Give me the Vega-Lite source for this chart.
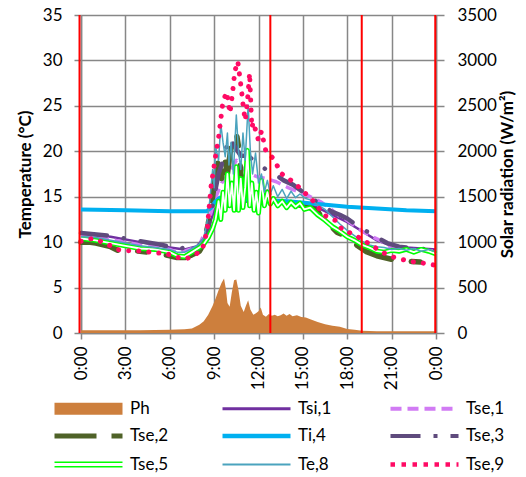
{
  "$schema": "https://vega.github.io/schema/vega-lite/v6.json",
  "width": 355,
  "height": 318,
  "autosize": {"type": "none"},
  "padding": {"left": 81, "top": 15, "right": 90, "bottom": 144},
  "config": {
    "font": "Lato",
    "view": {"stroke": null},
    "axis": {
      "gridColor": "#878787", "gridWidth": 1.5, "gridOpacity": 1,
      "domainColor": "#878787", "domainWidth": 1.5,
      "tickColor": "#878787", "tickWidth": 1.5, "tickSize": 7,
      "labelColor": "#000000", "labelFontSize": 17, "labelFont": "Lato", "labelPadding": 12,
      "titleColor": "#000000", "titleFontSize": 17, "titleFont": "Lato", "titleFontWeight": "bold"
    }
  },
  "data": {
    "values": [
      {"s":"Ph","t":0,"v":30},{"s":"Ph","t":1,"v":30},{"s":"Ph","t":2,"v":30},{"s":"Ph","t":3,"v":30},{"s":"Ph","t":4,"v":30},{"s":"Ph","t":5,"v":32},{"s":"Ph","t":6,"v":35},{"s":"Ph","t":7,"v":42},{"s":"Ph","t":7.5,"v":50},{"s":"Ph","t":8,"v":90},{"s":"Ph","t":8.3,"v":130},{"s":"Ph","t":8.6,"v":200},{"s":"Ph","t":8.9,"v":300},{"s":"Ph","t":9.1,"v":380},{"s":"Ph","t":9.3,"v":470},{"s":"Ph","t":9.5,"v":550},{"s":"Ph","t":9.67,"v":600},{"s":"Ph","t":9.8,"v":480},{"s":"Ph","t":9.9,"v":330},{"s":"Ph","t":10.05,"v":290},{"s":"Ph","t":10.2,"v":450},{"s":"Ph","t":10.35,"v":580},{"s":"Ph","t":10.5,"v":590},{"s":"Ph","t":10.65,"v":470},{"s":"Ph","t":10.8,"v":300},{"s":"Ph","t":11.0,"v":230},{"s":"Ph","t":11.15,"v":300},{"s":"Ph","t":11.3,"v":360},{"s":"Ph","t":11.45,"v":260},{"s":"Ph","t":11.65,"v":200},{"s":"Ph","t":11.85,"v":220},{"s":"Ph","t":12.0,"v":240},{"s":"Ph","t":12.15,"v":280},{"s":"Ph","t":12.3,"v":200},{"s":"Ph","t":12.5,"v":180},{"s":"Ph","t":12.7,"v":210},{"s":"Ph","t":12.9,"v":190},{"s":"Ph","t":13.1,"v":200},{"s":"Ph","t":13.3,"v":185},{"s":"Ph","t":13.5,"v":195},{"s":"Ph","t":13.7,"v":215},{"s":"Ph","t":13.9,"v":190},{"s":"Ph","t":14.1,"v":210},{"s":"Ph","t":14.3,"v":185},{"s":"Ph","t":14.6,"v":195},{"s":"Ph","t":14.9,"v":175},{"s":"Ph","t":15.2,"v":170},{"s":"Ph","t":15.5,"v":150},{"s":"Ph","t":16,"v":120},{"s":"Ph","t":16.5,"v":95},{"s":"Ph","t":17,"v":80},{"s":"Ph","t":17.5,"v":70},{"s":"Ph","t":18,"v":45},{"s":"Ph","t":18.5,"v":35},{"s":"Ph","t":19,"v":25},{"s":"Ph","t":20,"v":20},{"s":"Ph","t":21,"v":20},{"s":"Ph","t":22,"v":20},{"s":"Ph","t":23,"v":20},{"s":"Ph","t":24,"v":20},

      {"s":"Tsi,1","t":0,"v":10.9},{"s":"Tsi,1","t":2,"v":10.6},{"s":"Tsi,1","t":4,"v":10.0},{"s":"Tsi,1","t":6,"v":9.4},{"s":"Tsi,1","t":7,"v":9.2},{"s":"Tsi,1","t":8,"v":9.6},{"s":"Tsi,1","t":8.5,"v":11},{"s":"Tsi,1","t":9,"v":13.5},{"s":"Tsi,1","t":9.5,"v":14.3},{"s":"Tsi,1","t":10,"v":14.4},{"s":"Tsi,1","t":12,"v":14.5},{"s":"Tsi,1","t":13,"v":14.5},{"s":"Tsi,1","t":14,"v":14.5},{"s":"Tsi,1","t":15,"v":14.3},{"s":"Tsi,1","t":16,"v":13.8},{"s":"Tsi,1","t":17,"v":13.0},{"s":"Tsi,1","t":18,"v":12.2},{"s":"Tsi,1","t":19,"v":11.2},{"s":"Tsi,1","t":20,"v":10.2},{"s":"Tsi,1","t":21,"v":9.6},{"s":"Tsi,1","t":22,"v":9.4},{"s":"Tsi,1","t":23,"v":9.3},{"s":"Tsi,1","t":24,"v":9.2},

      {"s":"Tse,1","t":0,"v":10.7},{"s":"Tse,1","t":1,"v":10.6},{"s":"Tse,1","t":2,"v":10.3},{"s":"Tse,1","t":3,"v":10.0},{"s":"Tse,1","t":4,"v":9.7},{"s":"Tse,1","t":5,"v":9.5},{"s":"Tse,1","t":6,"v":9.2},{"s":"Tse,1","t":6.5,"v":8.9},{"s":"Tse,1","t":7,"v":9.0},{"s":"Tse,1","t":7.5,"v":9.3},{"s":"Tse,1","t":8,"v":9.7},{"s":"Tse,1","t":8.5,"v":11.5},{"s":"Tse,1","t":9,"v":14.5},{"s":"Tse,1","t":9.5,"v":16.5},{"s":"Tse,1","t":10,"v":17.5},{"s":"Tse,1","t":10.5,"v":19.0},{"s":"Tse,1","t":11,"v":18.0},{"s":"Tse,1","t":11.5,"v":17.5},{"s":"Tse,1","t":11.9,"v":17.2},{"s":"Tse,1","t":12.5,"v":17.0},{"s":"Tse,1","t":13.2,"v":16.65},{"s":"Tse,1","t":14,"v":16.0},{"s":"Tse,1","t":14.9,"v":15.4},{"s":"Tse,1","t":15.5,"v":15.0},{"s":"Tse,1","t":16.2,"v":14.45},{"s":"Tse,1","t":17,"v":13.5},{"s":"Tse,1","t":17.5,"v":12.8},{"s":"Tse,1","t":18,"v":12.4},{"s":"Tse,1","t":18.4,"v":11.9},{"s":"Tse,1","t":19,"v":11.2},{"s":"Tse,1","t":19.7,"v":10.6},{"s":"Tse,1","t":20.4,"v":10.05},{"s":"Tse,1","t":20.9,"v":9.5},{"s":"Tse,1","t":21.5,"v":9.3},{"s":"Tse,1","t":22,"v":9.2},{"s":"Tse,1","t":23,"v":9.1},{"s":"Tse,1","t":24,"v":9.0},

      {"s":"Tse,2","t":0,"v":10.0},{"s":"Tse,2","t":0.5,"v":10.0},{"s":"Tse,2","t":1,"v":9.9},{"s":"Tse,2","t":2,"v":9.5},{"s":"Tse,2","t":2.5,"v":9.1},{"s":"Tse,2","t":3,"v":9.1},{"s":"Tse,2","t":4,"v":9.0},{"s":"Tse,2","t":5,"v":8.8},{"s":"Tse,2","t":6,"v":8.5},{"s":"Tse,2","t":6.5,"v":8.3},{"s":"Tse,2","t":7,"v":8.3},{"s":"Tse,2","t":7.5,"v":8.6},{"s":"Tse,2","t":8,"v":9.0},{"s":"Tse,2","t":8.3,"v":9.8},{"s":"Tse,2","t":8.6,"v":12},{"s":"Tse,2","t":8.9,"v":15},{"s":"Tse,2","t":9.1,"v":17.5},{"s":"Tse,2","t":9.3,"v":19},{"s":"Tse,2","t":9.5,"v":17},{"s":"Tse,2","t":9.7,"v":19.4},{"s":"Tse,2","t":9.9,"v":17.5},{"s":"Tse,2","t":10.1,"v":20},{"s":"Tse,2","t":10.3,"v":21.5},{"s":"Tse,2","t":10.5,"v":22.0},{"s":"Tse,2","t":10.65,"v":20.5},{"s":"Tse,2","t":10.8,"v":17.5},{"s":"Tse,2","t":11.0,"v":16.5},{"s":"Tse,2","t":11.3,"v":15.8},{"s":"Tse,2","t":11.6,"v":15.0},{"s":"Tse,2","t":12.0,"v":15.8},{"s":"Tse,2","t":12.3,"v":14.6},{"s":"Tse,2","t":12.6,"v":15.5},{"s":"Tse,2","t":13.0,"v":14.5},{"s":"Tse,2","t":13.5,"v":14.4},{"s":"Tse,2","t":14,"v":14.3},{"s":"Tse,2","t":14.5,"v":14.2},{"s":"Tse,2","t":15,"v":14.0},{"s":"Tse,2","t":15.5,"v":13.8},{"s":"Tse,2","t":16,"v":13.4},{"s":"Tse,2","t":16.4,"v":12.4},{"s":"Tse,2","t":17,"v":11.6},{"s":"Tse,2","t":17.3,"v":11.1},{"s":"Tse,2","t":18.2,"v":10.4},{"s":"Tse,2","t":18.7,"v":9.6},{"s":"Tse,2","t":19.3,"v":8.95},{"s":"Tse,2","t":20,"v":8.5},{"s":"Tse,2","t":21.3,"v":8.0},{"s":"Tse,2","t":22,"v":7.9},{"s":"Tse,2","t":23,"v":7.8},{"s":"Tse,2","t":24,"v":7.8},

      {"s":"Ti,4","t":0,"v":13.6},{"s":"Ti,4","t":3,"v":13.5},{"s":"Ti,4","t":6,"v":13.4},{"s":"Ti,4","t":8.5,"v":13.4},{"s":"Ti,4","t":8.8,"v":13.8},{"s":"Ti,4","t":9.1,"v":14.5},{"s":"Ti,4","t":9.4,"v":14.9},{"s":"Ti,4","t":10,"v":14.8},{"s":"Ti,4","t":11,"v":14.7},{"s":"Ti,4","t":12.6,"v":14.6},{"s":"Ti,4","t":14,"v":14.5},{"s":"Ti,4","t":16,"v":14.2},{"s":"Ti,4","t":18,"v":13.9},{"s":"Ti,4","t":20,"v":13.7},{"s":"Ti,4","t":22,"v":13.5},{"s":"Ti,4","t":24,"v":13.4},

      {"s":"Tse,3","t":0,"v":11.0},{"s":"Tse,3","t":2,"v":10.7},{"s":"Tse,3","t":4,"v":10.1},{"s":"Tse,3","t":5.5,"v":9.7},{"s":"Tse,3","t":6.5,"v":9.2},{"s":"Tse,3","t":7,"v":9.4},{"s":"Tse,3","t":8,"v":9.7},{"s":"Tse,3","t":8.5,"v":10.5},{"s":"Tse,3","t":9,"v":15},{"s":"Tse,3","t":9.3,"v":17.5},{"s":"Tse,3","t":9.6,"v":19},{"s":"Tse,3","t":10.0,"v":21.5},{"s":"Tse,3","t":10.4,"v":20.5},{"s":"Tse,3","t":10.8,"v":19.5},{"s":"Tse,3","t":11.3,"v":19.5},{"s":"Tse,3","t":11.9,"v":18.7},{"s":"Tse,3","t":12.5,"v":18.0},{"s":"Tse,3","t":13,"v":17.6},{"s":"Tse,3","t":13.7,"v":16.8},{"s":"Tse,3","t":14.35,"v":16.3},{"s":"Tse,3","t":15,"v":15.5},{"s":"Tse,3","t":15.6,"v":14.8},{"s":"Tse,3","t":16.3,"v":14.1},{"s":"Tse,3","t":16.95,"v":13.35},{"s":"Tse,3","t":17.5,"v":13.0},{"s":"Tse,3","t":18,"v":12.6},{"s":"Tse,3","t":18.6,"v":11.9},{"s":"Tse,3","t":19.5,"v":11.0},{"s":"Tse,3","t":20.7,"v":9.9},{"s":"Tse,3","t":21.5,"v":9.5},{"s":"Tse,3","t":22.5,"v":9.3},{"s":"Tse,3","t":23.5,"v":9.2},{"s":"Tse,3","t":24,"v":9.1},

      {"s":"Tse,5","t":0,"v":10.4},{"s":"Tse,5","t":1,"v":10.2},{"s":"Tse,5","t":2,"v":9.9},{"s":"Tse,5","t":3,"v":9.6},{"s":"Tse,5","t":4,"v":9.3},{"s":"Tse,5","t":5,"v":9.2},{"s":"Tse,5","t":6,"v":8.9},{"s":"Tse,5","t":6.5,"v":8.5},{"s":"Tse,5","t":7,"v":8.4},{"s":"Tse,5","t":7.5,"v":8.9},{"s":"Tse,5","t":8,"v":9.4},{"s":"Tse,5","t":8.3,"v":9.8},{"s":"Tse,5","t":8.6,"v":10.5},{"s":"Tse,5","t":8.9,"v":11.5},{"s":"Tse,5","t":9.1,"v":12.5},{"s":"Tse,5","t":9.3,"v":14.5},{"s":"Tse,5","t":9.45,"v":12.5},{"s":"Tse,5","t":9.6,"v":15.5},{"s":"Tse,5","t":9.75,"v":13.5},{"s":"Tse,5","t":9.9,"v":17.5},{"s":"Tse,5","t":10.05,"v":14},{"s":"Tse,5","t":10.2,"v":16.5},{"s":"Tse,5","t":10.35,"v":13.5},{"s":"Tse,5","t":10.5,"v":18.3},{"s":"Tse,5","t":10.65,"v":13.5},{"s":"Tse,5","t":10.8,"v":17},{"s":"Tse,5","t":10.95,"v":13.8},{"s":"Tse,5","t":11.1,"v":16},{"s":"Tse,5","t":11.25,"v":20.1},{"s":"Tse,5","t":11.4,"v":14},{"s":"Tse,5","t":11.55,"v":16.5},{"s":"Tse,5","t":11.7,"v":13.5},{"s":"Tse,5","t":11.85,"v":15.5},{"s":"Tse,5","t":12.0,"v":13.2},{"s":"Tse,5","t":12.2,"v":16.8},{"s":"Tse,5","t":12.4,"v":14.0},{"s":"Tse,5","t":12.6,"v":15.5},{"s":"Tse,5","t":12.8,"v":14.2},{"s":"Tse,5","t":13.0,"v":14.8},{"s":"Tse,5","t":13.3,"v":14.0},{"s":"Tse,5","t":13.6,"v":14.5},{"s":"Tse,5","t":13.9,"v":13.8},{"s":"Tse,5","t":14.2,"v":14.4},{"s":"Tse,5","t":14.5,"v":13.9},{"s":"Tse,5","t":14.8,"v":14.3},{"s":"Tse,5","t":15.1,"v":13.6},{"s":"Tse,5","t":15.5,"v":13.8},{"s":"Tse,5","t":16,"v":13.0},{"s":"Tse,5","t":16.5,"v":12.4},{"s":"Tse,5","t":17,"v":11.7},{"s":"Tse,5","t":17.5,"v":11.2},{"s":"Tse,5","t":18,"v":10.6},{"s":"Tse,5","t":18.5,"v":10.2},{"s":"Tse,5","t":19,"v":9.7},{"s":"Tse,5","t":19.5,"v":9.4},{"s":"Tse,5","t":20,"v":9.0},{"s":"Tse,5","t":20.5,"v":8.9},{"s":"Tse,5","t":21,"v":9.1},{"s":"Tse,5","t":21.5,"v":9.0},{"s":"Tse,5","t":22,"v":9.2},{"s":"Tse,5","t":22.5,"v":8.9},{"s":"Tse,5","t":23,"v":9.2},{"s":"Tse,5","t":23.5,"v":9.0},{"s":"Tse,5","t":24,"v":8.7},

      {"s":"Te,8","t":0,"v":10.6},{"s":"Te,8","t":1,"v":10.5},{"s":"Te,8","t":2,"v":10.2},{"s":"Te,8","t":3,"v":9.9},{"s":"Te,8","t":4,"v":9.6},{"s":"Te,8","t":5,"v":9.4},{"s":"Te,8","t":6,"v":9.2},{"s":"Te,8","t":6.5,"v":8.9},{"s":"Te,8","t":7,"v":8.9},{"s":"Te,8","t":7.5,"v":9.3},{"s":"Te,8","t":8,"v":9.8},{"s":"Te,8","t":8.3,"v":10.5},{"s":"Te,8","t":8.5,"v":12},{"s":"Te,8","t":8.7,"v":14.5},{"s":"Te,8","t":8.9,"v":18},{"s":"Te,8","t":9.0,"v":16},{"s":"Te,8","t":9.1,"v":20.5},{"s":"Te,8","t":9.3,"v":19},{"s":"Te,8","t":9.45,"v":23},{"s":"Te,8","t":9.6,"v":21},{"s":"Te,8","t":9.75,"v":19.4},{"s":"Te,8","t":9.9,"v":22},{"s":"Te,8","t":10.0,"v":18.5},{"s":"Te,8","t":10.15,"v":21},{"s":"Te,8","t":10.3,"v":17.5},{"s":"Te,8","t":10.5,"v":24.0},{"s":"Te,8","t":10.65,"v":20},{"s":"Te,8","t":10.8,"v":18},{"s":"Te,8","t":10.95,"v":22},{"s":"Te,8","t":11.1,"v":19},{"s":"Te,8","t":11.3,"v":25.1},{"s":"Te,8","t":11.45,"v":20},{"s":"Te,8","t":11.6,"v":17.5},{"s":"Te,8","t":11.8,"v":19.8},{"s":"Te,8","t":12.0,"v":16.5},{"s":"Te,8","t":12.2,"v":17.5},{"s":"Te,8","t":12.4,"v":15.5},{"s":"Te,8","t":12.6,"v":16.8},{"s":"Te,8","t":12.8,"v":15.3},{"s":"Te,8","t":13.0,"v":16.2},{"s":"Te,8","t":13.3,"v":15.0},{"s":"Te,8","t":13.6,"v":15.8},{"s":"Te,8","t":13.9,"v":14.8},{"s":"Te,8","t":14.2,"v":15.6},{"s":"Te,8","t":14.5,"v":14.9},{"s":"Te,8","t":14.8,"v":15.3},{"s":"Te,8","t":15.2,"v":14.8},{"s":"Te,8","t":15.6,"v":14.6},{"s":"Te,8","t":16,"v":14.1},{"s":"Te,8","t":16.5,"v":13.6},{"s":"Te,8","t":17,"v":12.8},{"s":"Te,8","t":17.5,"v":12.0},{"s":"Te,8","t":18,"v":11.3},{"s":"Te,8","t":18.5,"v":10.7},{"s":"Te,8","t":19,"v":10.1},{"s":"Te,8","t":19.5,"v":9.7},{"s":"Te,8","t":20,"v":9.5},{"s":"Te,8","t":20.5,"v":9.4},{"s":"Te,8","t":21,"v":9.2},{"s":"Te,8","t":21.5,"v":9.3},{"s":"Te,8","t":22,"v":9.1},{"s":"Te,8","t":22.5,"v":9.3},{"s":"Te,8","t":23,"v":9.0},{"s":"Te,8","t":23.5,"v":9.2},{"s":"Te,8","t":24,"v":8.9},

      {"s":"Tse,9","t":0,"v":10.1},{"s":"Tse,9","t":0.5,"v":10.3},{"s":"Tse,9","t":0.8,"v":10.4},{"s":"Tse,9","t":1.3,"v":10.1},{"s":"Tse,9","t":2,"v":9.6},{"s":"Tse,9","t":2.4,"v":9.2},{"s":"Tse,9","t":3.2,"v":9.05},{"s":"Tse,9","t":4.3,"v":9.0},{"s":"Tse,9","t":5,"v":8.8},{"s":"Tse,9","t":5.7,"v":8.8},{"s":"Tse,9","t":6.3,"v":8.4},{"s":"Tse,9","t":7.1,"v":8.15},{"s":"Tse,9","t":7.7,"v":8.6},{"s":"Tse,9","t":8.2,"v":9.2},{"s":"Tse,9","t":8.4,"v":10.4},{"s":"Tse,9","t":8.55,"v":11.7},{"s":"Tse,9","t":8.7,"v":14.5},{"s":"Tse,9","t":8.8,"v":16.3},{"s":"Tse,9","t":8.95,"v":17.8},{"s":"Tse,9","t":9.1,"v":19.5},{"s":"Tse,9","t":9.3,"v":21.5},{"s":"Tse,9","t":9.45,"v":23.5},{"s":"Tse,9","t":9.6,"v":25.5},{"s":"Tse,9","t":9.85,"v":26.5},{"s":"Tse,9","t":10.07,"v":24.2},{"s":"Tse,9","t":10.25,"v":26.5},{"s":"Tse,9","t":10.4,"v":28.8},{"s":"Tse,9","t":10.6,"v":29.9},{"s":"Tse,9","t":10.75,"v":28.0},{"s":"Tse,9","t":10.87,"v":26.4},{"s":"Tse,9","t":10.97,"v":24.9},{"s":"Tse,9","t":11.1,"v":23.4},{"s":"Tse,9","t":11.25,"v":25.5},{"s":"Tse,9","t":11.4,"v":28.6},{"s":"Tse,9","t":11.45,"v":26.5},{"s":"Tse,9","t":11.5,"v":24.5},{"s":"Tse,9","t":11.55,"v":22.6},{"s":"Tse,9","t":11.65,"v":23.2},{"s":"Tse,9","t":12.0,"v":21.2},{"s":"Tse,9","t":12.2,"v":22.2},{"s":"Tse,9","t":12.5,"v":20.0},{"s":"Tse,9","t":13.07,"v":19.1},{"s":"Tse,9","t":13.5,"v":17.6},{"s":"Tse,9","t":14.2,"v":16.8},{"s":"Tse,9","t":14.7,"v":16.1},{"s":"Tse,9","t":15.6,"v":14.7},{"s":"Tse,9","t":16.0,"v":13.9},{"s":"Tse,9","t":16.5,"v":12.9},{"s":"Tse,9","t":17.2,"v":12.4},{"s":"Tse,9","t":17.7,"v":11.3},{"s":"Tse,9","t":18.4,"v":10.9},{"s":"Tse,9","t":19.1,"v":10.2},{"s":"Tse,9","t":19.7,"v":9.6},{"s":"Tse,9","t":20.3,"v":8.95},{"s":"Tse,9","t":21.0,"v":8.4},{"s":"Tse,9","t":21.7,"v":8.1},{"s":"Tse,9","t":22.4,"v":7.85},{"s":"Tse,9","t":23.1,"v":7.7},{"s":"Tse,9","t":23.8,"v":7.5},{"s":"Tse,9","t":24,"v":7.45},

      {"s":"red","t":-0.1},{"s":"red","t":12.8},{"s":"red","t":18.98},{"s":"red","t":23.95}
    ]
  },
  "encoding": {
    "x": {
      "field": "t", "type": "quantitative",
      "scale": {"domain": [0, 24], "nice": false, "zero": false},
      "axis": {
        "title": null, "values": [0, 3, 6, 9, 12, 15, 18, 21, 24],
        "labelExpr": "(datum.value % 24) + ':00'",
        "labelAngle": -90, "labelPadding": 7, "tickSize": 6, "labelFlush": false, "labelOverlap": false
      }
    }
  },
  "layer": [
    {
      "transform": [{"filter": "datum.s === 'Ph'"}],
      "mark": {"type": "area", "interpolate": "linear", "opacity": 1},
      "encoding": {
        "y": {
          "field": "v", "type": "quantitative",
          "scale": {"domain": [0, 3500], "nice": false},
          "axis": {
            "orient": "right", "values": [0, 500, 1000, 1500, 2000, 2500, 3000, 3500], "format": "d",
            "grid": true, "title": "Solar radiation (W/m²)", "titleAngle": -90, "titleBaseline": "top", "titlePadding": 3, "tickSize": 8, "labelPadding": 13
          }
        },
        "color": {
          "field": "s", "type": "nominal",
          "scale": {
            "domain": ["Ph", "Tsi,1", "Tse,1", "Tse,2", "Ti,4", "Tse,3", "Tse,5", "Te,8", "Tse,9"],
            "range": ["#CD7F3D", "#7030A0", "#D17BF4", "#4F6228", "#00B0F0", "#5F4B7D", "#00FF00", "#4BA3BE", "#FF0A64"]
          },
          "legend": {
            "title": null, "orient": "none", "legendX": -1, "legendY": 384, "direction": "horizontal",
            "columns": 3, "gridAlign": "all", "columnPadding": 44, "rowPadding": 7.5,
            "symbolSize": 400, "symbolOpacity": 1,
            "symbolType": {"expr": "datum.value === 'Ph' ? 'M-3.4,-0.6H3.4V0.6H-3.4Z' : (datum.value === 'Tse,5' ? 'M-3.4,-0.22H3.4M-3.4,0.22H3.4' : 'M-3.4,0H3.4')"},
            "symbolStrokeColor": {"expr": "datum.value === 'Ph' ? 'transparent' : datum.value === 'Tsi,1' ? '#7030A0' : datum.value === 'Tse,1' ? '#D17BF4' : datum.value === 'Tse,2' ? '#4F6228' : datum.value === 'Ti,4' ? '#00B0F0' : datum.value === 'Tse,3' ? '#5F4B7D' : datum.value === 'Tse,5' ? '#00FF00' : datum.value === 'Te,8' ? '#4BA3BE' : '#FF0A64'"},
            "symbolStrokeWidth": {"expr": "datum.value === 'Ph' ? 0 : datum.value === 'Tsi,1' ? 3 : datum.value === 'Tse,1' ? 4 : datum.value === 'Tse,2' ? 5 : datum.value === 'Ti,4' ? 4.5 : datum.value === 'Tse,3' ? 4 : datum.value === 'Tse,5' ? 1.6 : datum.value === 'Te,8' ? 2 : 4.5"},
            "symbolDash": {"expr": "datum.value === 'Tse,1' ? [11, 6] : datum.value === 'Tse,2' ? [42, 15, 12, 15] : datum.value === 'Tse,3' ? [30, 13, 4, 13] : datum.value === 'Tse,9' ? [4.5, 6.5] : [1, 0]"},
            "labelFontSize": 17, "labelFont": "Lato", "labelColor": "#000000",
            "labelOffset": 33, "labelLimit": 200, "padding": 0
          }
        }
      }
    },
    {
      "encoding": {
        "y": {
          "field": "v", "type": "quantitative",
          "scale": {"domain": [0, 35], "nice": false},
          "axis": {"orient": "left", "grid": false, "values": [0, 5, 10, 15, 20, 25, 30, 35], "title": "Temperature (°C)", "titlePadding": 8}
        }
      },
      "layer": [
        {"transform": [{"filter": "datum.s === 'Tsi,1'"}], "mark": {"type": "line", "color": "#7030A0", "strokeWidth": 2.5, "strokeJoin": "round"}},
        {"transform": [{"filter": "datum.s === 'Tse,1'"}], "mark": {"type": "line", "color": "#D17BF4", "strokeWidth": 3.5, "strokeDash": [11, 6], "strokeJoin": "round"}},
        {"transform": [{"filter": "datum.s === 'Tse,2'"}], "mark": {"type": "line", "color": "#4F6228", "strokeWidth": 5.5, "strokeDash": [38, 20, 9, 20], "strokeCap": "round", "strokeJoin": "round"}},
        {"transform": [{"filter": "datum.s === 'Ti,4'"}], "mark": {"type": "line", "color": "#00B0F0", "strokeWidth": 4, "strokeJoin": "round"}},
        {"transform": [{"filter": "datum.s === 'Tse,3'"}], "mark": {"type": "line", "color": "#5F4B7D", "strokeWidth": 4.5, "strokeDash": [26, 17, 0.1, 17], "strokeCap": "round", "strokeJoin": "round"}},
        {"transform": [{"filter": "datum.s === 'Tse,5'"}], "mark": {"type": "line", "color": "#00FF00", "strokeWidth": 5, "strokeJoin": "round"}},
        {"transform": [{"filter": "datum.s === 'Tse,5'"}], "mark": {"type": "line", "color": "#ffffff", "strokeWidth": 1.8, "strokeJoin": "round"}},
        {"transform": [{"filter": "datum.s === 'Te,8'"}], "mark": {"type": "line", "color": "#4BA3BE", "strokeWidth": 1.5, "strokeJoin": "round"}},
        {"transform": [{"filter": "datum.s === 'Tse,9'"}], "mark": {"type": "line", "color": "#FF0A64", "strokeWidth": 5, "strokeDash": [0.1, 10], "strokeCap": "round", "strokeJoin": "round"}}
      ]
    },
    {
      "transform": [{"filter": "datum.s === 'red'"}],
      "mark": {"type": "rule", "color": "#FF0000", "strokeWidth": 2},
      "encoding": {}
    }
  ],
  "resolve": {"scale": {"y": "independent"}}
}
